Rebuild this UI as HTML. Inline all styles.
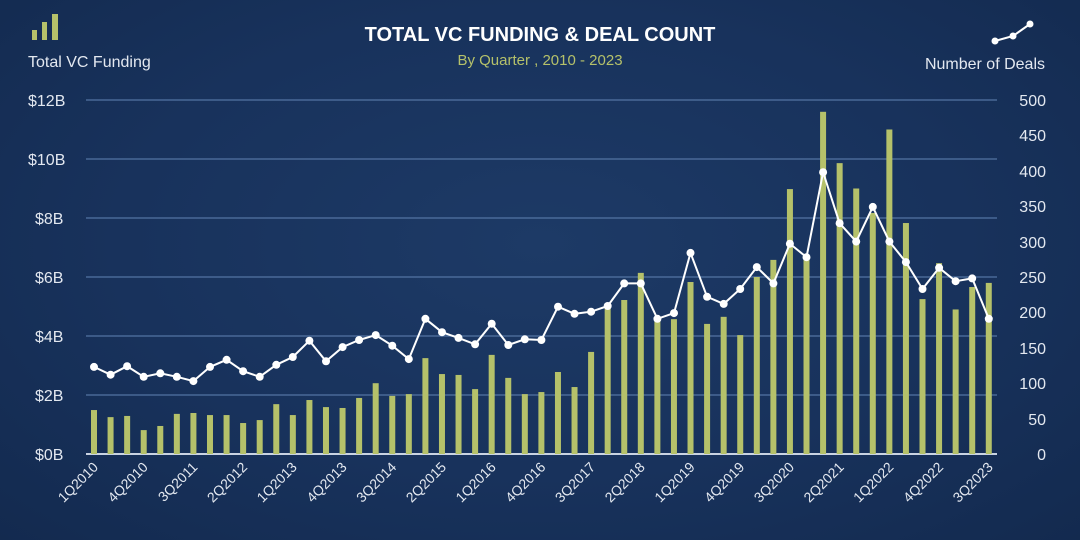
<!DOCTYPE html>
<html><head><meta charset="utf-8"><style>
html,body{margin:0;padding:0;width:1080px;height:540px;overflow:hidden}
body{background:radial-gradient(ellipse at 50% 45%,#1d3a66 0%,#18325c 55%,#132a4f 100%);font-family:"Liberation Sans",sans-serif}
svg text{font-family:"Liberation Sans",sans-serif}
</style></head><body>
<svg id="s" width="1080" height="540" xmlns="http://www.w3.org/2000/svg">
<g fill="#b5c16a">
<rect x="32" y="30" width="5" height="10"/><rect x="42" y="22" width="5" height="18"/><rect x="52" y="14" width="6" height="26"/>
</g>
<text x="28" y="67" fill="#e3e8f0" font-size="16">Total VC Funding</text>
<polyline points="995,41 1013,36 1030,24" fill="none" stroke="#fff" stroke-width="2"/>
<circle cx="995" cy="41" r="3.5" fill="#fff"/><circle cx="1013" cy="36" r="3.5" fill="#fff"/><circle cx="1030" cy="24" r="3.5" fill="#fff"/>
<text x="1045" y="69" fill="#e3e8f0" font-size="16" text-anchor="end">Number of Deals</text>
<text x="540" y="41" fill="#fff" font-size="20" font-weight="bold" text-anchor="middle">TOTAL VC FUNDING &amp; DEAL COUNT</text>
<text x="540" y="65" fill="#b5c16a" font-size="15" text-anchor="middle">By Quarter , 2010 - 2023</text>
<g stroke="#5677a6" stroke-width="1.5" opacity="0.8">
<line x1="86" x2="997" y1="100" y2="100"/><line x1="86" x2="997" y1="159" y2="159"/><line x1="86" x2="997" y1="218" y2="218"/><line x1="86" x2="997" y1="277" y2="277"/><line x1="86" x2="997" y1="336" y2="336"/><line x1="86" x2="997" y1="395" y2="395"/>
</g>
<line x1="86" x2="997" y1="454" y2="454" stroke="#c9d3e2" stroke-width="2"/>
<g fill="#e3e8f0" font-size="16">
<text x="28" y="106">$12B</text><text x="28" y="165">$10B</text><text x="35" y="224">$8B</text><text x="35" y="283">$6B</text><text x="35" y="342">$4B</text><text x="35" y="401">$2B</text><text x="35" y="460">$0B</text>
</g>
<g fill="#e3e8f0" font-size="16" text-anchor="end">
<text x="1046" y="106">500</text><text x="1046" y="141">450</text><text x="1046" y="177">400</text><text x="1046" y="212">350</text><text x="1046" y="248">300</text><text x="1046" y="283">250</text><text x="1046" y="318">200</text><text x="1046" y="354">150</text><text x="1046" y="389">100</text><text x="1046" y="425">50</text><text x="1046" y="460">0</text>
</g>
<g id="bars" fill="#b5c16a"></g>
<g id="line"></g>
<g fill="#e3e8f0" font-size="14" text-anchor="end">
<text transform="translate(99,468) rotate(-45)">1Q2010</text>
<text transform="translate(148.7,468) rotate(-45)">4Q2010</text>
<text transform="translate(198.4,468) rotate(-45)">3Q2011</text>
<text transform="translate(248.1,468) rotate(-45)">2Q2012</text>
<text transform="translate(297.8,468) rotate(-45)">1Q2013</text>
<text transform="translate(347.6,468) rotate(-45)">4Q2013</text>
<text transform="translate(397.3,468) rotate(-45)">3Q2014</text>
<text transform="translate(447,468) rotate(-45)">2Q2015</text>
<text transform="translate(496.7,468) rotate(-45)">1Q2016</text>
<text transform="translate(546.4,468) rotate(-45)">4Q2016</text>
<text transform="translate(596.1,468) rotate(-45)">3Q2017</text>
<text transform="translate(645.8,468) rotate(-45)">2Q2018</text>
<text transform="translate(695.6,468) rotate(-45)">1Q2019</text>
<text transform="translate(745.3,468) rotate(-45)">4Q2019</text>
<text transform="translate(795,468) rotate(-45)">3Q2020</text>
<text transform="translate(844.7,468) rotate(-45)">2Q2021</text>
<text transform="translate(894.4,468) rotate(-45)">1Q2022</text>
<text transform="translate(944.1,468) rotate(-45)">4Q2022</text>
<text transform="translate(993.8,468) rotate(-45)">3Q2023</text>
</g>
</svg>
<script>
var f=[1.49,1.25,1.29,0.81,0.95,1.36,1.39,1.32,1.32,1.05,1.15,1.69,1.32,1.83,1.59,1.56,1.9,2.4,1.97,2.03,3.25,2.71,2.68,2.2,3.36,2.58,2.03,2.1,2.78,2.27,3.46,4.95,5.22,6.14,4.54,4.57,5.83,4.41,4.65,4.03,6.0,6.58,8.98,6.58,11.6,9.86,9.0,8.17,11.0,7.83,5.25,6.47,4.9,5.66,5.8];
var d=[123,112,124,109,114,109,103,123,133,117,109,126,137,160,131,151,161,168,153,134,191,172,164,155,184,154,162,161,208,198,201,209,241,241,191,199,284,222,212,233,264,241,297,278,398,326,300,349,300,271,233,263,244,248,191];
var ns="http://www.w3.org/2000/svg",b=document.getElementById('bars'),l=document.getElementById('line'),pts=[];
for(var i=0;i<55;i++){var x=94+16.57*i,h=f[i]*29.5;
var r=document.createElementNS(ns,'rect');r.setAttribute('x',x-3);r.setAttribute('y',454-h);r.setAttribute('width',6);r.setAttribute('height',h);b.appendChild(r);
pts.push(x.toFixed(1)+','+(454-d[i]*0.708).toFixed(1));}
var p=document.createElementNS(ns,'polyline');p.setAttribute('points',pts.join(' '));p.setAttribute('fill','none');p.setAttribute('stroke','#fff');p.setAttribute('stroke-width','2');l.appendChild(p);
pts.forEach(function(s){var c=document.createElementNS(ns,'circle'),a=s.split(',');c.setAttribute('cx',a[0]);c.setAttribute('cy',a[1]);c.setAttribute('r',4);c.setAttribute('fill','#fff');l.appendChild(c);});
</script>
</body></html>
